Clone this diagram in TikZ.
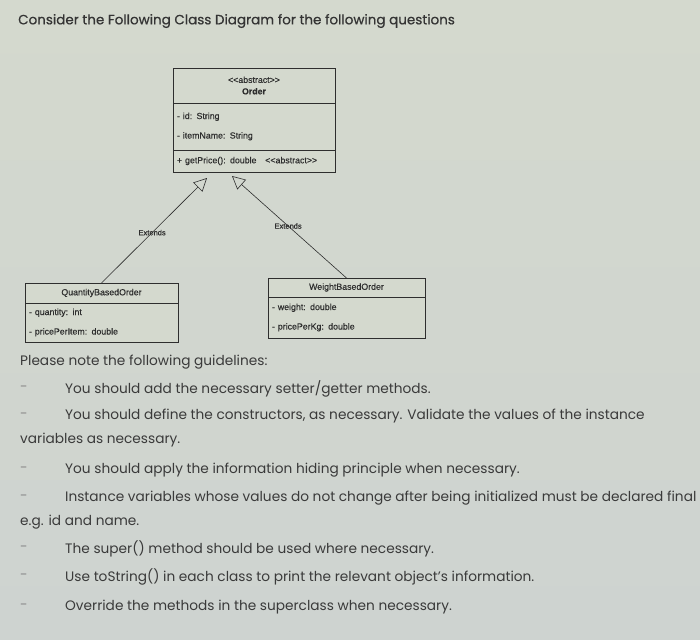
\documentclass[tikz,border=0pt]{standalone}
\usepackage{fontspec}
\setmainfont{Poppins}
\newfontfamily\titlefont[FakeBold=0.6]{Poppins}
\newfontfamily\umlfont[FakeBold=0.4]{Liberation Sans}
\usetikzlibrary{arrows.meta,positioning}
\definecolor{screen}{HTML}{D4D9CE}
\definecolor{screenlow}{HTML}{CED3D0}
\definecolor{ink}{HTML}{3A3A3A}
\definecolor{umlink}{HTML}{2E2E2E}
\begin{document}
\begin{tikzpicture}[x=1pt,y=-1pt,>={Triangle[open,length=13pt,width=13pt]},
  part/.style={draw=umlink, line width=0.8pt, fill=screen, inner xsep=4pt, inner ysep=0pt, outer sep=0pt,
    text=umlink, font=\umlfont\fontsize{8.8}{11.5}\selectfont},
  head/.style={part, align=center},
  attrs/.style={part, align=left, font=\umlfont\fontsize{8.8}{19.5}\selectfont},
  extends/.style={font=\umlfont\fontsize{7.5}{8}\selectfont, text=umlink, inner sep=1pt},
  txt/.style={anchor=west, inner sep=0pt, text=ink, font=\fontsize{13.7}{15}\selectfont},
  dashmark/.style={txt, text=ink!60}]
\shade[top color=screen, bottom color=screenlow, draw=none] (0,0) rectangle (700,639);
\useasboundingbox (0,0) rectangle (700,639);
% title
\node[txt, font=\titlefont\fontsize{13.5}{15}\selectfont, text=ink!90!black] (title) at (18,21) {Consider the Following Class Diagram for the following questions};
% Order
\node[head, anchor=north west, minimum width=162pt, minimum height=35pt] (order) at (173,68) {<<abstract>>\\\bfseries Order};
\node[attrs, below=0pt of order, text width=154pt, minimum height=47pt] (orderattr) {- id: String\\- itemName: String};
\node[attrs, below=0pt of orderattr, text width=154pt, minimum height=22pt] (ordermeth) {+ getPrice(): double\quad <<abstract>>};
\coordinate (tipL) at (207,178);
\coordinate (tipR) at (232,176);
% QuantityBasedOrder
\node[head, anchor=north west, minimum width=153pt, minimum height=20pt] (qbo) at (25,283) {QuantityBasedOrder};
\node[attrs, below=0pt of qbo, text width=145pt, minimum height=39pt] (qboattr) {- quantity: int\\- pricePerItem: double};
% WeightBasedOrder
\node[head, anchor=north west, minimum width=157pt, minimum height=19pt] (wbo) at (268,278) {WeightBasedOrder};
\node[attrs, below=0pt of wbo, text width=149pt, minimum height=41pt] (wboattr) {- weight: double\\- pricePerKg: double};
\draw[->, umlink, line width=0.6pt] (qbo.north) -- node[extends, pos=0.48] {Extends} (tipL);
\draw[->, umlink, line width=0.6pt] (wbo.north) -- node[extends, pos=0.51] {Extends} (tipR);
% guidelines
\node[txt] (heading) at (20,362) {Please note the following guidelines:};
\node[dashmark] (d1) at (20,389) {-};
\node[txt] (g1) at (65,389) {You should add the necessary setter/getter methods.};
\node[dashmark] (d2) at (20,416) {-};
\node[txt] (g2) at (65,416) {You should define the constructors, as necessary. Validate the values of the instance};
\node[txt] (g2b) at (20,440) {variables as necessary.};
\node[dashmark] (d3) at (20,470) {-};
\node[txt] (g3) at (65,470) {You should apply the information hiding principle when necessary.};
\node[dashmark] (d4) at (20,498) {-};
\node[txt] (g4) at (65,498) {Instance variables whose values do not change after being initialized must be declared final};
\node[txt] (g4b) at (20,522) {e.g. id and name.};
\node[dashmark] (d5) at (20,549) {-};
\node[txt] (g5) at (65,549) {The super() method should be used where necessary.};
\node[dashmark] (d6) at (20,577) {-};
\node[txt] (g6) at (65,577) {Use toString() in each class to print the relevant object's information.};
\node[dashmark] (d7) at (20,607) {-};
\node[txt] (g7) at (65,607) {Override the methods in the superclass when necessary.};
\end{tikzpicture}
\end{document}
